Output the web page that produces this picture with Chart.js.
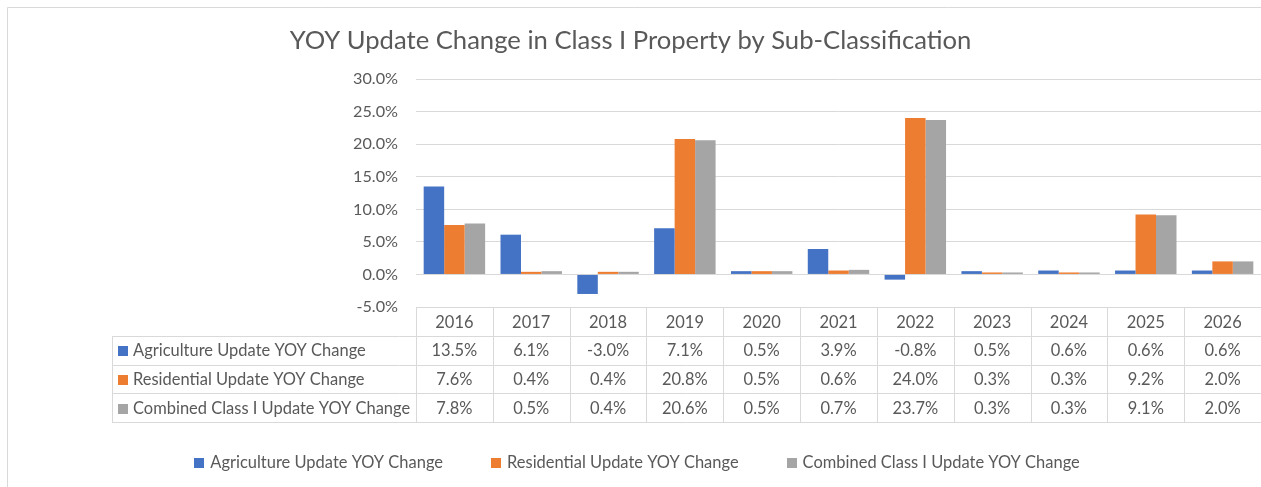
<!DOCTYPE html>
<html>
<head>
<meta charset="utf-8">
<script src="https://cdn.jsdelivr.net/npm/chart.js@4.4.1/dist/chart.umd.min.js"></script>
<style>
  html, body { margin: 0; padding: 0; background: #fff; }
  #wrap { width: 1261px; height: 487px; }
</style>
</head>
<body>
<div id="wrap"><canvas id="chart" width="1261" height="487"></canvas></div>
<script>
const years = ["2016", "2017", "2018", "2019", "2020", "2021", "2022", "2023", "2024", "2025", "2026"];
const agriculture = [13.5, 6.1, -3.0, 7.1, 0.5, 3.9, -0.8, 0.5, 0.6, 0.6, 0.6];
const residential = [7.6, 0.4, 0.4, 20.8, 0.5, 0.6, 24.0, 0.3, 0.3, 9.2, 2.0];
const combined = [7.8, 0.5, 0.4, 20.6, 0.5, 0.7, 23.7, 0.3, 0.3, 9.1, 2.0];
const seriesNames = [
  "Agriculture Update YOY Change",
  "Residential Update YOY Change",
  "Combined Class I Update YOY Change",
];
const titleText = "YOY Update Change in Class I Property by Sub-Classification";
const yMin = -5;
const yMax = 30;
const yStep = 5;

const FONT = "Lato";
const TEXT_COLOR = "#595959";
const LINE_COLOR = "#d9d9d9";
const colors = ["#4472C4", "#ED7D31", "#A5A5A5"];

// size the fonts so the texts take the same width as in the picture
const measureCtx = document.createElement("canvas").getContext("2d");
function fitSize(text, width) {
  measureCtx.font = "100px " + FONT;
  return (100 * width) / measureCtx.measureText(text).width;
}
const titleSize = fitSize(titleText, 682);
const labelSize = fitSize(seriesNames[0], 233);
const tickSize = fitSize("30.0%", 45);

function crisp(v) {
  return Math.round(v) + 0.5;
}

const frame = {
  id: "frame",
  beforeDraw(chart) {
    const ctx = chart.ctx;
    ctx.save();
    ctx.fillStyle = "#fff";
    ctx.fillRect(0, 0, chart.width, chart.height);
    ctx.strokeStyle = LINE_COLOR;
    ctx.lineWidth = 1;
    ctx.beginPath();
    ctx.moveTo(7.5, chart.height);
    ctx.lineTo(7.5, 7.5);
    ctx.lineTo(chart.width, 7.5);
    ctx.stroke();
    ctx.restore();
  },
};

const dataTable = {
  id: "dataTable",
  afterDraw(chart) {
    const ctx = chart.ctx;
    const area = chart.chartArea;
    const xs = chart.scales.x;
    const n = years.length;
    const colW = (area.right - area.left) / n;
    const top = area.bottom;
    const rowH = 28.75;
    const tableLeft = 112;
    const rows = [agriculture, residential, combined];
    const bottom = top + rowH * (rows.length + 1);

    ctx.save();
    ctx.strokeStyle = LINE_COLOR;
    ctx.lineWidth = 1;
    ctx.beginPath();
    // header top line
    ctx.moveTo(area.left, crisp(top));
    ctx.lineTo(chart.width, crisp(top));
    for (let r = 1; r <= rows.length + 1; r++) {
      const y = crisp(top + rowH * r);
      ctx.moveTo(tableLeft, y);
      ctx.lineTo(chart.width, y);
    }
    ctx.moveTo(crisp(tableLeft), crisp(top + rowH));
    ctx.lineTo(crisp(tableLeft), crisp(bottom));
    for (let i = 0; i <= n; i++) {
      const x = crisp(xs.getPixelForValue(i) - colW / 2);
      ctx.moveTo(x, top);
      ctx.lineTo(x, bottom);
    }
    ctx.stroke();

    ctx.fillStyle = TEXT_COLOR;
    ctx.font = labelSize + "px " + FONT;
    ctx.textBaseline = "middle";
    ctx.textAlign = "center";
    years.forEach((yr, i) => {
      ctx.fillText(yr, xs.getPixelForValue(i), top + rowH / 2 + 1);
    });
    rows.forEach((vals, r) => {
      const cy = top + rowH * (r + 1) + rowH / 2 + 1;
      ctx.fillStyle = colors[r];
      ctx.fillRect(tableLeft + 6, Math.round(cy - 5), 10, 10);
      ctx.fillStyle = TEXT_COLOR;
      ctx.textAlign = "left";
      ctx.fillText(seriesNames[r], tableLeft + 21, cy);
      ctx.textAlign = "center";
      vals.forEach((v, i) => {
        ctx.fillText(v.toFixed(1) + "%", xs.getPixelForValue(i), cy);
      });
    });

    // legend under the table
    const box = 10;
    const gap = 6;
    const spacing = 48;
    const widths = seriesNames.map((s) => box + gap + ctx.measureText(s).width);
    const total = widths.reduce((a, b) => a + b, 0) + spacing * (widths.length - 1);
    let lx = 637 - total / 2;
    const ly = 462;
    ctx.textAlign = "left";
    seriesNames.forEach((s, i) => {
      ctx.fillStyle = colors[i];
      ctx.fillRect(Math.round(lx), ly - 4, box, box);
      ctx.fillStyle = TEXT_COLOR;
      ctx.fillText(s, lx + box + gap, ly + 1);
      lx += widths[i] + spacing;
    });
    ctx.restore();
  },
};

new Chart(document.getElementById("chart"), {
  type: "bar",
  data: {
    labels: years,
    datasets: [
      { label: seriesNames[0], data: agriculture, backgroundColor: colors[0] },
      { label: seriesNames[1], data: residential, backgroundColor: colors[1] },
      { label: seriesNames[2], data: combined, backgroundColor: colors[2] },
    ],
  },
  options: {
    responsive: false,
    animation: false,
    events: [],
    layout: { padding: { left: 0, right: 0, top: 0, bottom: 0 } },
    datasets: {
      bar: { categoryPercentage: 0.8, barPercentage: 1.0, borderWidth: 0 },
    },
    plugins: {
      legend: { display: false },
      tooltip: { enabled: false },
      title: {
        display: true,
        text: titleText,
        color: TEXT_COLOR,
        font: { family: FONT, size: titleSize, weight: "normal", lineHeight: 1.2 },
        padding: { top: 41 - (titleSize * 1.2) / 2, bottom: 79 - 41 - (titleSize * 1.2) / 2 },
      },
    },
    scales: {
      x: {
        grid: { display: false },
        border: { display: false },
        ticks: { display: false },
        afterFit(scale) {
          scale.height = 180;
        },
      },
      y: {
        min: yMin,
        max: yMax,
        grid: { color: LINE_COLOR, drawTicks: false },
        border: { display: false },
        ticks: {
          stepSize: yStep,
          padding: 18,
          color: TEXT_COLOR,
          font: { family: FONT, size: tickSize },
          callback: (v) => v.toFixed(1) + "%",
        },
        afterFit(scale) {
          scale.width = 416;
        },
      },
    },
  },
  plugins: [frame, dataTable],
});
</script>
</body>
</html>
